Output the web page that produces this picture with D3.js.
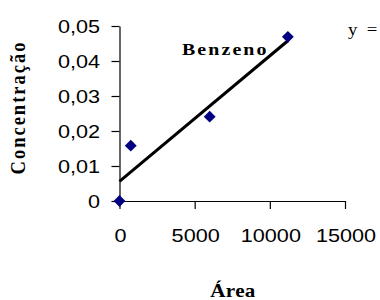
<!DOCTYPE html>
<html>
<head>
<meta charset="utf-8">
<script src="https://cdn.jsdelivr.net/npm/d3@7"></script>
<style>
  body { margin: 0; background: #fff; }
  svg { display: block; }
</style>
</head>
<body>
<div id="chart"></div>
<script>
// data
var areaValues = [0, 750, 6000, 11200];
var concValues = [0, 0.0158, 0.0241, 0.0469];
var xTicks = [0, 5000, 10000, 15000];
var yTicks = [0, 0.01, 0.02, 0.03, 0.04, 0.05];

var width = 380, height = 300;
var stretch = 1.17; // the original text is a bit wider than normal

var svg = d3.select("#chart").append("svg")
   .attr("width", width)
   .attr("height", height);

var x = d3.scaleLinear().domain([0, 15000]).range([119.5, 345]);
var y = d3.scaleLinear().domain([0, 0.05]).range([201, 26]);

var fmtY = function(d) { return d === 0 ? "0" : d3.format(".2f")(d).replace(".", ","); };

// y axis
var yAxis = svg.append("g")
   .attr("transform", "translate(" + x(0) + ",0)")
   .call(d3.axisLeft(y).tickValues(yTicks).tickFormat(fmtY).tickSizeInner(8).tickSizeOuter(0));

// x axis
var xAxis = svg.append("g")
   .attr("transform", "translate(0," + y(0) + ")")
   .call(d3.axisBottom(x).tickValues(xTicks).tickFormat(function(d) { return d; }).tickSizeInner(8).tickSizeOuter(0));

[yAxis, xAxis].forEach(function(a) {
   a.select(".domain").attr("stroke", "#000").attr("stroke-width", 1.2);
   a.selectAll(".tick line").attr("stroke", "#000").attr("stroke-width", 1.2);
   a.selectAll(".tick text")
      .attr("font-family", "Liberation Sans, Arial, sans-serif")
      .attr("font-size", "18.5px")
      .attr("fill", "#000")
      .attr("x", 0).attr("y", 0);
});
yAxis.selectAll(".tick text")
   .attr("dy", "0.36em")
   .attr("transform", "translate(-19.5,0) scale(" + stretch + ",1)");
xAxis.selectAll(".tick text")
   .attr("dy", 0)
   .attr("transform", "translate(0.5,40.7) scale(" + stretch + ",1)");

// trend line (least squares from the points)
var mx = d3.mean(areaValues), my = d3.mean(concValues);
var sxy = d3.sum(areaValues, function(v, i) { return (v - mx) * (concValues[i] - my); });
var sxx = d3.sum(areaValues, function(v) { return (v - mx) * (v - mx); });
var slope = sxy / sxx, icpt = my - slope * mx;
var xmax = d3.max(areaValues);

svg.append("line")
   .attr("x1", x(0)).attr("y1", y(icpt))
   .attr("x2", x(xmax)).attr("y2", y(icpt + slope * xmax))
   .attr("stroke", "#000")
   .attr("stroke-width", 3);

// markers
svg.selectAll(".pt")
   .data(areaValues.map(function(v, i) { return {a: v, c: concValues[i]}; }))
   .enter().append("path")
   .attr("class", "pt")
   .attr("d", d3.symbol().type(d3.symbolSquare).size(70))
   .attr("transform", function(d) { return "translate(" + x(d.a) + "," + y(d.c) + ") rotate(45)"; })
   .attr("fill", "#000080");

// texts
var serif = "Liberation Serif, Times New Roman, serif";

svg.append("text")
   .attr("transform", "translate(182,54.5) scale(" + stretch + ",1)")
   .attr("font-family", serif).attr("font-weight", "bold")
   .attr("font-size", "17px").attr("letter-spacing", "1.8px")
   .text("Benzeno");

svg.append("text")
   .attr("transform", "translate(348,35) scale(" + stretch + ",1)")
   .attr("font-family", serif)
   .attr("font-size", "16px").attr("letter-spacing", "2px")
   .text("y =");

svg.append("text")
   .attr("transform", "translate(25,107.5) rotate(-90) scale(1," + stretch + ")")
   .attr("text-anchor", "middle")
   .attr("font-family", serif).attr("font-weight", "bold")
   .attr("font-size", "18.5px").attr("letter-spacing", "2px")
   .text("Concentração");

svg.append("text")
   .attr("transform", "translate(233,296.5) scale(" + stretch + ",1)")
   .attr("text-anchor", "middle")
   .attr("font-family", serif).attr("font-weight", "bold")
   .attr("font-size", "18px").attr("letter-spacing", "0.3px")
   .text("Área");
</script>
</body>
</html>
